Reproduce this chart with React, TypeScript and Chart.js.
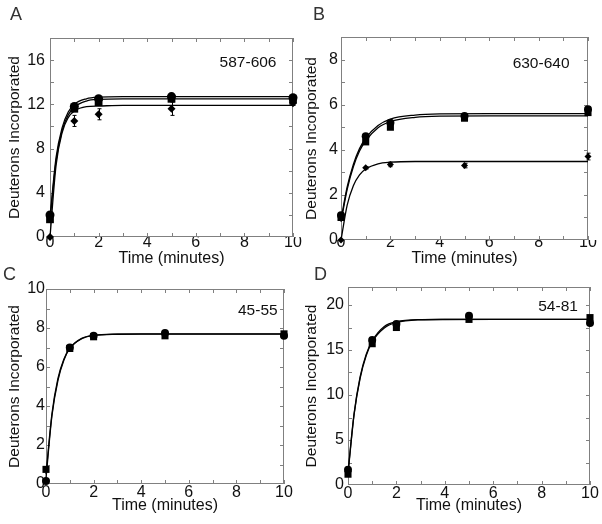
import React, { useEffect, useRef } from "react";
import { Chart, registerables } from "chart.js";

Chart.register(...registerables);

const FONT = "'Liberation Sans', Arial, Helvetica, sans-serif";
const TEXT = "#111";
const FRAME = "#808080";

// shared x values
const times = [0, 1, 2, 5, 10];
const fitTimes = [0, 0.25, 0.5, 0.75, 1, 1.5, 2, 3, 4, 6, 10];
const xTickLabels = [0, 2, 4, 6, 8, 10];
const xTickMarks = [0, 1, 2, 3, 4, 5, 6, 7, 8, 9, 10];

// Panel A: 587-606
const aCircle = [2.0, 11.8, 12.5, 12.7, 12.6];
const aSquare = [1.6, 11.6, 12.2, 12.5, 12.45];
const aDiamond = [0, 10.5, 11.1, 11.6, 12.1];
const aDiamondErr = [0, 0.5, 0.5, 0.6, 0.2];
const aCircleFit = [1.8, 7.2, 9.9, 11.3, 12.0, 12.5, 12.65, 12.7, 12.7, 12.7, 12.7];
const aSquareFit = [1.5, 6.9, 9.65, 11.05, 11.75, 12.3, 12.45, 12.5, 12.5, 12.5, 12.5];
const aDiamondFit = [0, 6.5, 9.45, 10.8, 11.4, 11.8, 11.85, 11.9, 11.9, 11.9, 11.9];
const aYTicks = [0, 4, 8, 12, 16];
const aYMarks = [2, 4, 6, 8, 10, 12, 14, 16];

// Panel B: 630-640
const bCircle = [1.1, 4.6, 5.2, 5.5, 5.8];
const bSquare = [1.0, 4.35, 5.0, 5.4, 5.65];
const bDiamond = [0, 3.2, 3.35, 3.3, 3.7];
const bCircleErr = [0, 0.05, 0.05, 0.05, 0.12];
const bDiamondErr = [0, 0.05, 0.1, 0.1, 0.15];
const bCircleFit = [0.9, 2.35, 3.35, 4.05, 4.52, 5.08, 5.36, 5.54, 5.59, 5.6, 5.6];
const bSquareFit = [0.8, 2.25, 3.25, 3.95, 4.4, 4.98, 5.25, 5.44, 5.49, 5.5, 5.5];
const bDiamondFit = [0, 1.55, 2.41, 2.89, 3.15, 3.38, 3.45, 3.48, 3.48, 3.48, 3.48];
const bYTicks = [0, 2, 4, 6, 8];
const bYMarks = [1, 2, 3, 4, 5, 6, 7, 8];

// Panel C: 45-55
const cCircle = [0.15, 7.0, 7.6, 7.75, 7.6];
const cSquare = [0.75, 6.95, 7.55, 7.6, 7.7];
const cCircleFit = [0.3, 3.5, 5.3, 6.35, 6.95, 7.45, 7.62, 7.69, 7.7, 7.7, 7.7];
const cSquareFit = [0.5, 3.6, 5.4, 6.4, 6.97, 7.47, 7.62, 7.68, 7.69, 7.69, 7.69];
const cYTicks = [0, 2, 4, 6, 8, 10];
const cYMarks = [1, 2, 3, 4, 5, 6, 7, 8, 9];

// Panel D: 54-81
const dCircle = [1.7, 16.1, 17.9, 18.8, 18.0];
const dSquare = [1.2, 15.7, 17.5, 18.4, 18.6];
const dCircleFit = [1.4, 7.9, 12.0, 14.5, 16.0, 17.6, 18.15, 18.38, 18.4, 18.4, 18.4];
const dSquareFit = [1.2, 7.8, 11.85, 14.35, 15.9, 17.45, 18.05, 18.35, 18.39, 18.4, 18.4];
const dYTicks = [0, 5, 10, 15, 20];
const dYMarks = [2.5, 5, 7.5, 10, 12.5, 15, 17.5, 20];

type Series = { style: string; radius: number; values: number[]; err?: number[] };
type Panel = {
  letter: string;
  letterX: number;
  letterY: number;
  label: string;
  labelX: number;
  labelY: number;
  left: number;
  top: number;
  width: number;
  height: number;
  pad: { left: number; top: number; right: number; bottom: number };
  yWidth: number;
  xHeight: number;
  yMax: number;
  yTicks: number[];
  yMarks: number[];
  xTickPad: number;
  yTickPad: number;
  yTitlePad: number;
  series: Series[];
  fits: number[][];
};

const panels: Panel[] = [
  {
    letter: "A", letterX: 10, letterY: 19.5,
    label: "587-606", labelX: 8.15, labelY: 15.8,
    left: 0, top: 0, width: 310, height: 275,
    pad: { left: 0, top: 38, right: 17, bottom: 8 },
    yWidth: 50, xHeight: 30, yMax: 18, yTicks: aYTicks, yMarks: aYMarks,
    xTickPad: -2, yTickPad: 5, yTitlePad: 7.25,
    series: [
      { style: "rectRot", radius: 4, values: aDiamond, err: aDiamondErr },
      { style: "rect", radius: 5.5, values: aSquare },
      { style: "circle", radius: 4.5, values: aCircle },
    ],
    fits: [aCircleFit, aSquareFit, aDiamondFit],
  },
  {
    letter: "B", letterX: 12, letterY: 19.5,
    label: "630-640", labelX: 8.1, labelY: 7.83,
    left: 301, top: 0, width: 301, height: 275,
    pad: { left: 0, top: 37, right: 14, bottom: 8 },
    yWidth: 40, xHeight: 27, yMax: 9, yTicks: bYTicks, yMarks: bYMarks,
    xTickPad: -5.5, yTickPad: 3, yTitlePad: 3.25,
    series: [
      { style: "rectRot", radius: 3.5, values: bDiamond, err: bDiamondErr },
      { style: "rect", radius: 5, values: bSquare },
      { style: "circle", radius: 4, values: bCircle, err: bCircleErr },
    ],
    fits: [bCircleFit, bSquareFit, bDiamondFit],
  },
  {
    letter: "C", letterX: 3, letterY: 18,
    label: "45-55", labelX: 8.9, labelY: 8.87,
    left: 0, top: 262, width: 310, height: 262,
    pad: { left: 0, top: 27, right: 26, bottom: 10 },
    yWidth: 46, xHeight: 30, yMax: 10, yTicks: cYTicks, yMarks: cYMarks,
    xTickPad: 0.5, yTickPad: 1, yTitlePad: 7.25,
    series: [
      { style: "circle", radius: 4, values: cCircle },
      { style: "rect", radius: 5, values: cSquare },
    ],
    fits: [cCircleFit, cSquareFit],
  },
  {
    letter: "D", letterX: 13, letterY: 18,
    label: "54-81", labelX: 8.68, labelY: 19.84,
    left: 301, top: 262, width: 301, height: 262,
    pad: { left: 0, top: 25, right: 12, bottom: 10 },
    yWidth: 47, xHeight: 29, yMax: 22, yTicks: dYTicks, yMarks: dYMarks,
    xTickPad: 0.5, yTickPad: 4, yTitlePad: 3.25,
    series: [
      { style: "circle", radius: 4, values: dCircle },
      { style: "rect", radius: 5, values: dSquare },
    ],
    fits: [dCircleFit, dSquareFit],
  },
];

function PanelChart({ p }: { p: Panel }) {
  const ref = useRef<HTMLCanvasElement>(null);

  useEffect(() => {
    const canvas = ref.current;
    if (!canvas) return;

    const decor = {
      id: "decor",
      beforeDatasetsDraw(chart: any) {
        const { ctx, chartArea: ca, scales } = chart;
        const x = scales.x;
        const y = scales.y;
        ctx.save();
        ctx.strokeStyle = FRAME;
        ctx.lineWidth = 1;
        ctx.strokeRect(ca.left + 0.5, ca.top + 0.5, ca.right - ca.left - 1, ca.bottom - ca.top - 1);
        ctx.beginPath();
        const tl = 4;
        for (const v of xTickMarks) {
          const px = Math.round(x.getPixelForValue(v)) + 0.5;
          ctx.moveTo(px, ca.bottom);
          ctx.lineTo(px, ca.bottom - tl);
          ctx.moveTo(px, ca.top);
          ctx.lineTo(px, ca.top + tl);
        }
        for (const v of p.yMarks) {
          const py = Math.round(y.getPixelForValue(v)) + 0.5;
          ctx.moveTo(ca.left, py);
          ctx.lineTo(ca.left + tl, py);
          ctx.moveTo(ca.right, py);
          ctx.lineTo(ca.right - tl, py);
        }
        ctx.stroke();
        ctx.restore();
      },
      afterDatasetsDraw(chart: any) {
        const { ctx, scales } = chart;
        const x = scales.x;
        const y = scales.y;
        ctx.save();
        ctx.strokeStyle = "#000";
        ctx.lineWidth = 1;
        ctx.beginPath();
        for (const s of p.series) {
          if (!s.err) continue;
          s.values.forEach((v, i) => {
            const e = s.err![i];
            if (!e) return;
            const px = Math.round(x.getPixelForValue(times[i])) + 0.5;
            const y1 = y.getPixelForValue(v - e);
            const y2 = y.getPixelForValue(v + e);
            ctx.moveTo(px, y1);
            ctx.lineTo(px, y2);
            ctx.moveTo(px - 2, y1);
            ctx.lineTo(px + 2, y1);
            ctx.moveTo(px - 2, y2);
            ctx.lineTo(px + 2, y2);
          });
        }
        ctx.stroke();

        ctx.fillStyle = TEXT;
        ctx.font = `15.5px ${FONT}`;
        ctx.textAlign = "center";
        ctx.textBaseline = "middle";
        ctx.fillText(p.label, x.getPixelForValue(p.labelX), y.getPixelForValue(p.labelY));

        ctx.fillStyle = "#333";
        ctx.font = `18px ${FONT}`;
        ctx.textAlign = "left";
        ctx.textBaseline = "alphabetic";
        ctx.fillText(p.letter, p.letterX, p.letterY);
        ctx.restore();
      },
    };

    const pointSets = p.series.map((s) => ({
      type: "line" as const,
      data: times.map((t, i) => ({ x: t, y: s.values[i] })),
      showLine: false,
      pointStyle: s.style,
      pointRadius: s.radius,
      pointBackgroundColor: "#000",
      pointBorderColor: "#000",
      pointBorderWidth: 0,
      borderColor: "#000",
      backgroundColor: "#000",
      clip: false as any,
    }));
    const fitSets = p.fits.map((f) => ({
      type: "line" as const,
      data: fitTimes.map((t, i) => ({ x: t, y: f[i] })),
      pointRadius: 0,
      borderColor: "#000",
      borderWidth: 1.3,
      cubicInterpolationMode: "monotone" as const,
      fill: false,
      clip: false as any,
    }));

    const chart = new Chart(canvas, {
      type: "line",
      data: { datasets: [...fitSets, ...pointSets] as any },
      options: {
        animation: false,
        responsive: false,
        maintainAspectRatio: false,
        layout: { padding: p.pad },
        plugins: { legend: { display: false }, tooltip: { enabled: false } },
        scales: {
          x: {
            type: "linear",
            min: 0,
            max: 10,
            afterBuildTicks: (s: any) => {
              s.ticks = xTickLabels.map((v) => ({ value: v }));
            },
            afterFit: (s: any) => {
              s.height = p.xHeight;
            },
            grid: { display: false, drawTicks: false },
            border: { display: false },
            ticks: {
              padding: p.xTickPad,
              color: TEXT,
              autoSkip: false,
              maxRotation: 0,
              font: { family: FONT, size: 16, lineHeight: 1 },
            },
            title: {
              display: true,
              text: "Time (minutes)",
              color: TEXT,
              font: { family: FONT, size: 16, lineHeight: 1 },
              padding: { top: 0, bottom: 0 },
            },
          },
          y: {
            type: "linear",
            min: 0,
            max: p.yMax,
            afterBuildTicks: (s: any) => {
              s.ticks = p.yTicks.map((v) => ({ value: v }));
            },
            afterFit: (s: any) => {
              s.width = p.yWidth;
            },
            grid: { display: false, drawTicks: false },
            border: { display: false },
            ticks: {
              padding: p.yTickPad,
              color: TEXT,
              autoSkip: false,
              font: { family: FONT, size: 16, lineHeight: 1 },
            },
            title: {
              display: true,
              text: "Deuterons Incorporated",
              color: TEXT,
              font: { family: FONT, size: 15.5, lineHeight: 1 },
              padding: { top: p.yTitlePad, bottom: 0 },
            },
          },
        },
      },
      plugins: [decor],
    });
    return () => chart.destroy();
  }, [p]);

  return (
    <canvas
      ref={ref}
      width={p.width}
      height={p.height}
      style={{ position: "absolute", left: p.left, top: p.top, width: p.width, height: p.height }}
    />
  );
}

export default function App() {
  return (
    <div
      style={{
        position: "fixed",
        left: 0,
        top: 0,
        width: 602,
        height: 524,
        background: "#fff",
        overflow: "hidden",
      }}
    >
      {panels.map((p) => (
        <PanelChart key={p.letter} p={p} />
      ))}
    </div>
  );
}
